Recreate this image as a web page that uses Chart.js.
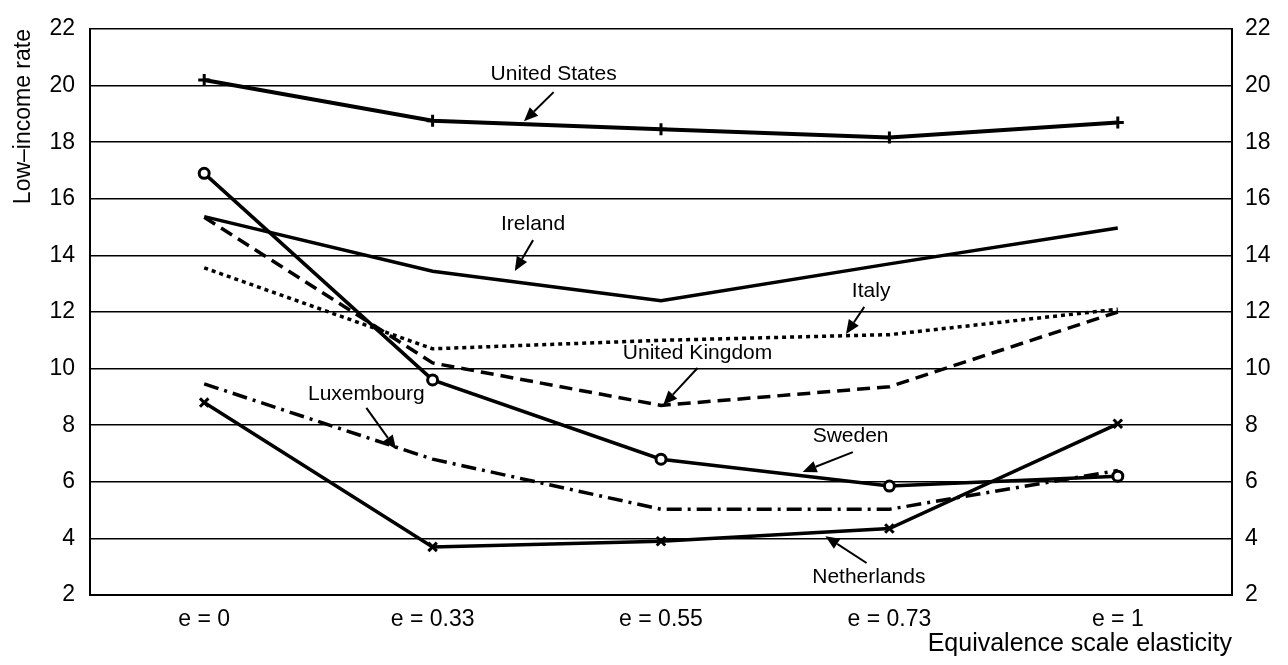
<!DOCTYPE html>
<html lang="en">
<head>
  <meta charset="UTF-8" />
  <title>Low-income rate by equivalence scale elasticity</title>
  <script src="https://cdn.jsdelivr.net/npm/chart.js"></script>
  <style>
    body {
      margin: 0;
      background: white;
    }

    #wrap {
      width: 1288px;
      height: 665px;
    }
  </style>
</head>
<body>

  <div id="wrap"><canvas id="chart"></canvas></div>

  <script>
    // categories and series
    const elasticities = ["e = 0", "e = 0.33", "e = 0.55", "e = 0.73", "e = 1"];
    const yTicks = [2, 4, 6, 8, 10, 12, 14, 16, 18, 20, 22];

    const unitedStates = [20.2, 18.76, 18.46, 18.17, 18.7];
    const ireland = [15.37, 13.44, 12.4, 13.7, 14.97];
    const italy = [13.56, 10.7, 11.0, 11.2, 12.1];
    const unitedKingdom = [15.35, 10.2, 8.7, 9.36, 12.0];
    const sweden = [16.9, 9.6, 6.8, 5.85, 6.2];
    const luxembourg = [9.46, 6.8, 5.03, 5.03, 6.4];
    const netherlands = [8.8, 3.7, 3.9, 4.35, 8.05];

    // labels with arrows, in data units: [text, labelX, labelY, tailX, tailY, headX, headY]
    const callouts = [
      ["United States", 1.53, 20.4, 1.53, 19.77, 1.40, 18.74],
      ["Ireland", 1.44, 15.11, 1.44, 14.54, 1.36, 13.45],
      ["Italy", 2.92, 12.75, 2.89, 12.18, 2.81, 11.22],
      ["United Kingdom", 2.16, 10.55, 2.16, 10.02, 2.01, 8.72],
      ["Luxembourg", 0.71, 9.1, 0.71, 8.61, 0.84, 7.15],
      ["Sweden", 2.83, 7.6, 2.84, 7.05, 2.62, 6.35],
      ["Netherlands", 2.91, 2.62, 2.90, 3.13, 2.72, 4.08]
    ];

    const FONT = "'Liberation Sans', Arial, sans-serif";

    const calloutPlugin = {
      id: 'callouts',
      afterDatasetsDraw(chart) {
        const ctx = chart.ctx;
        const xs = chart.scales.x, ys = chart.scales.y;
        ctx.save();
        ctx.fillStyle = 'black';
        ctx.strokeStyle = 'black';
        ctx.font = '21px ' + FONT;
        ctx.textAlign = 'center';
        ctx.textBaseline = 'middle';
        callouts.forEach(c => {
          const lx = xs.getPixelForValue(c[1]), ly = ys.getPixelForValue(c[2]);
          const tx = xs.getPixelForValue(c[3]), ty = ys.getPixelForValue(c[4]);
          const hx = xs.getPixelForValue(c[5]), hy = ys.getPixelForValue(c[6]);
          ctx.fillText(c[0], lx, ly);

          const ang = Math.atan2(hy - ty, hx - tx);
          const len = 14, half = 6;
          const bx = hx - len * Math.cos(ang), by = hy - len * Math.sin(ang);
          ctx.lineWidth = 2;
          ctx.beginPath();
          ctx.moveTo(tx, ty);
          ctx.lineTo(bx, by);
          ctx.stroke();
          ctx.beginPath();
          ctx.moveTo(hx, hy);
          ctx.lineTo(bx + half * Math.sin(ang), by - half * Math.cos(ang));
          ctx.lineTo(bx - half * Math.sin(ang), by + half * Math.cos(ang));
          ctx.closePath();
          ctx.fill();
        });
        ctx.restore();
      }
    };

    function series(label, data, extra) {
      return Object.assign({
        label: label,
        data: data,
        borderColor: 'black',
        backgroundColor: 'black',
        borderWidth: 3,
        pointRadius: 0,
        tension: 0,
        fill: false
      }, extra);
    }

    const tickFont = { family: FONT, size: 23 };

    new Chart(document.getElementById('chart'), {
      type: 'line',
      data: {
        labels: elasticities,
        datasets: [
          series('United States', unitedStates, { borderWidth: 4, pointStyle: 'cross', pointRadius: 6, pointBorderWidth: 3 }),
          series('Ireland', ireland, { borderWidth: 3.5 }),
          series('Italy', italy, { borderWidth: 3.5, borderDash: [4, 4] }),
          series('United Kingdom', unitedKingdom, { borderWidth: 3.5, borderDash: [13, 7] }),
          series('Sweden', sweden, { borderWidth: 3.5, pointStyle: 'circle', pointRadius: 5, pointBorderWidth: 3, pointBackgroundColor: 'white' }),
          series('Luxembourg', luxembourg, { borderWidth: 3.5, borderDash: [15, 6, 3, 6] }),
          series('Netherlands', netherlands, { borderWidth: 3.5, pointStyle: 'crossRot', pointRadius: 6, pointBorderWidth: 3 })
        ]
      },
      options: {
        responsive: true,
        maintainAspectRatio: false,
        animation: false,
        layout: { padding: { top: 29, left: 0, right: 0, bottom: 0 } },
        plugins: {
          legend: { display: false },
          tooltip: { enabled: false }
        },
        scales: {
          x: {
            offset: true,
            grid: { display: false, drawTicks: false },
            border: { display: true, color: 'black', width: 2 },
            ticks: { color: 'black', font: tickFont, padding: 11, maxRotation: 0 },
            title: {
              display: true,
              text: 'Equivalence scale elasticity',
              align: 'end',
              color: 'black',
              font: { family: FONT, size: 25 },
              padding: { top: 0, bottom: 6 }
            },
            afterFit(scale) { scale.height = 70; }
          },
          y: {
            position: 'left',
            min: 2,
            max: 22,
            afterBuildTicks(scale) { scale.ticks = yTicks.map(v => ({ value: v })); },
            grid: { color: 'black', lineWidth: 1.6, drawTicks: false },
            border: { display: true, color: 'black', width: 2 },
            ticks: { color: 'black', font: tickFont, padding: 15 },
            title: {
              display: true,
              text: 'Low\u2013income rate',
              align: 'end',
              color: 'black',
              font: { family: FONT, size: 23 },
              padding: { top: 10, bottom: 0 }
            },
            afterFit(scale) { scale.width = 90; }
          },
          y2: {
            position: 'right',
            min: 2,
            max: 22,
            afterBuildTicks(scale) { scale.ticks = yTicks.map(v => ({ value: v })); },
            grid: { display: false, drawTicks: false },
            border: { display: true, color: 'black', width: 2 },
            ticks: { color: 'black', font: tickFont, padding: 13 },
            afterFit(scale) { scale.width = 56; }
          }
        }
      },
      plugins: [calloutPlugin]
    });
  </script>
</body>
</html>
